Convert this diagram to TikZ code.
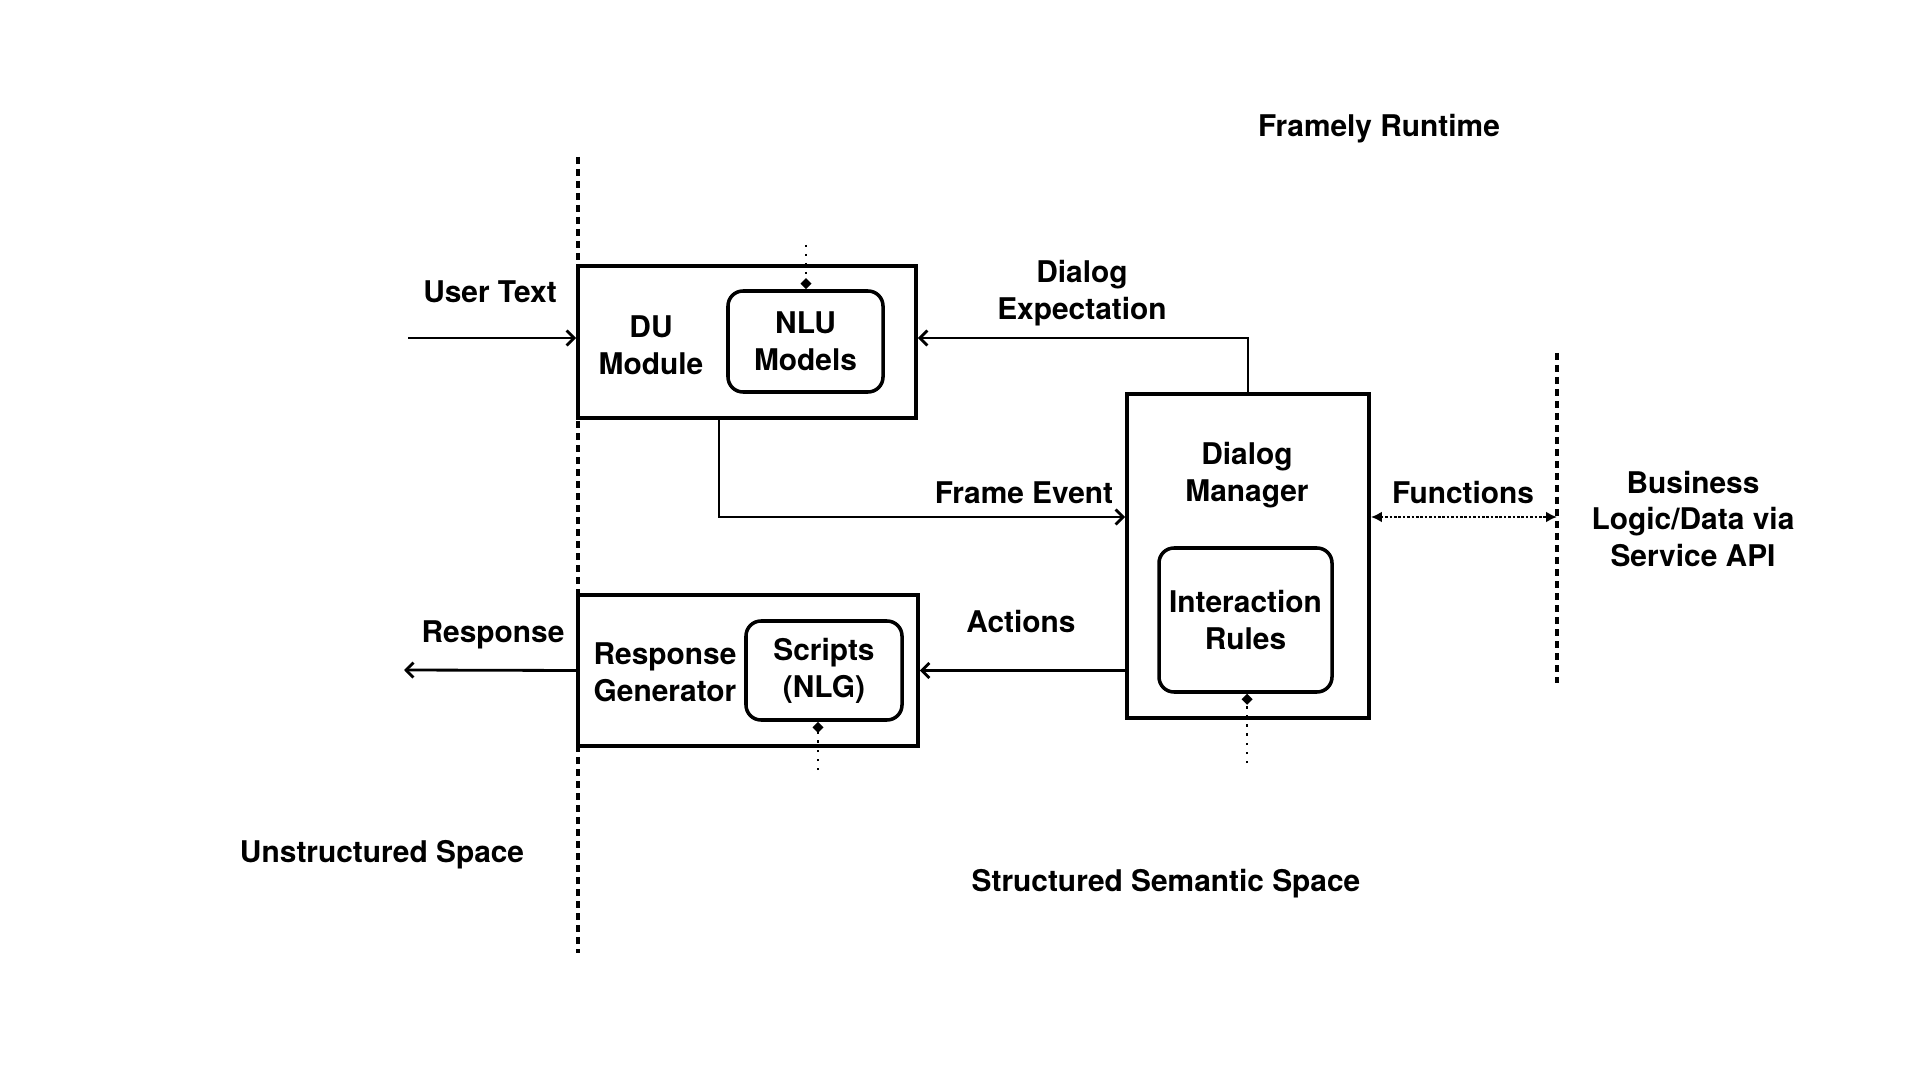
\documentclass[tikz,border=0pt]{standalone}
\usepackage{fontspec}
\setmainfont{TeX Gyre Heros}
\usetikzlibrary{arrows.meta,positioning,calc}
\tikzset{
  outer/.style  ={rectangle, draw=black, line width=2.2pt, inner sep=0pt},
  inner/.style  ={rectangle, rounded corners=3mm, draw=black, line width=2pt,
                  inner sep=0pt, align=center, font=\fontsize{17}{21}\selectfont\bfseries},
  lbl/.style    ={align=center, inner sep=0pt, font=\fontsize{17}{21}\selectfont\bfseries},
  ar/.style     ={-{Straight Barb[length=1.5mm,width=3mm]}, line width=1.6pt},
  fnar/.style   ={{Latex[length=2.2mm,width=2.2mm]}-{Latex[length=2.2mm,width=2.2mm]},
                  line width=1.5pt, densely dotted},
  pin/.style    ={-{Diamond[length=2.2mm,width=2.2mm]}, line width=1.6pt,
                  dash pattern=on 0.5mm off 1.3mm},
  divider/.style={line width=1.9pt, dash pattern=on 1.4mm off 1mm},
}

\begin{document}
\begin{tikzpicture}[x=0.2mm, y=-0.2mm]
\useasboundingbox (0,0) rectangle (1920,1080);

% dividers between the spaces
\coordinate (ltop) at (578,157);
\coordinate (lbot) at (578,953);
\coordinate (rtop) at (1557,353);
\coordinate (rbot) at (1557,683);
\draw[divider] (ltop) -- (lbot);
\draw[divider] (rtop) -- (rbot);

% blocks
\node[outer, minimum width=67.6mm, minimum height=30.4mm] (du) at (747,342) {};
\node[inner, minimum width=31mm, minimum height=20.2mm] (nlu) at (805.5,341.5) {NLU\\Models};
\node[lbl] (dutxt) at (651,345) {DU\\Module};

\node[outer, minimum width=48.4mm, minimum height=64.8mm] (dm) at (1248,556) {};
\node[inner, minimum width=34.6mm, minimum height=28.8mm] (rules) at (1245.5,620) {Interaction\\Rules};
\node[lbl] (dmtxt) at (1247,475) {Dialog\\Manager};

\node[outer, minimum width=68mm, minimum height=30.2mm] (rg) at (748,670.5) {};
\node[inner, minimum width=31.2mm, minimum height=19.8mm] (scripts) at (824,670.5) {Scripts\\(NLG)};
\node[lbl] (rgtxt) at (665,672) {Response\\Generator};

% labels
\node[lbl] (title) at (1379,129) {Framely Runtime};
\node[lbl] (usertext) at (490,292) {User Text};
\node[lbl] (expect) at (1082,293) {Dialog\\Expectation};
\node[lbl] (frameev) at (1024,493) {Frame Event};
\node[lbl] (funcs) at (1463,493) {Functions};
\node[lbl] (actions) at (1021,622) {Actions};
\node[lbl] (resp) at (493,635) {Response};
\node[lbl] (api) at (1693,519) {Business\\Logic/Data via\\Service API};
\node[lbl] (unstr) at (382,855) {Unstructured Space};
\node[lbl] (struct) at (1166,884) {Structured Semantic Space};

% connectors
\coordinate (utin) at (408,338);
\coordinate (rsout) at (404,670);
\coordinate (fe) at (719,517);
\coordinate (fn) at (1557,517);
\draw[ar] (utin) -- (utin -| du.west);
\draw[ar] (rg.west) -- (rsout);
\draw[ar] (dm.north) |- (du.east |- utin);
\draw[ar] (du.south -| fe) -- (fe) -- (fe -| dm.west);
\draw[ar] (dm.west |- rg.east) -- (rg.east);
\draw[fnar] (dm.east |- fn) -- (fn);

% pins on the inner blocks
\coordinate (nlupin) at (806,245);
\coordinate (scrpin) at (818,770);
\coordinate (rulpin) at (1247,763);
\draw[pin] (nlupin) -- (nlupin |- nlu.north);
\draw[pin] (scrpin) -- (scrpin |- scripts.south);
\draw[pin] (rulpin) -- (rulpin |- rules.south);

\end{tikzpicture}
\end{document}
